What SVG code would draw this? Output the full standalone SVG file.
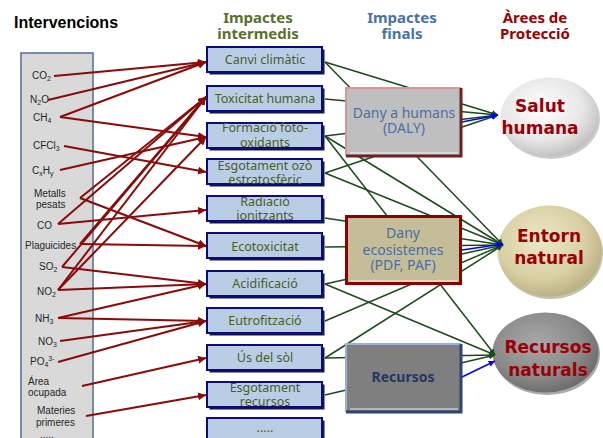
<svg xmlns="http://www.w3.org/2000/svg" width="603" height="438" viewBox="0 0 603 438">
<defs>
<style>
.hdr{font-family:"Noto Sans","DejaVu Sans",sans-serif;font-weight:bold;font-size:15px;text-anchor:middle}
.lbl{font-family:"Liberation Sans",Arial,sans-serif;font-size:10px;fill:#262626}
.sub{font-size:7px}
.mid rect.sh{fill:#15154f}
.mid rect.bx{fill:#b9cde5;stroke:#0c0c78;stroke-width:2}
.mid text{font-family:"Noto Sans","DejaVu Sans",sans-serif;font-size:12.5px;fill:#4a5e24;text-anchor:middle}
.end text{font-family:"Noto Sans","DejaVu Sans",sans-serif;font-size:14px;fill:#4a6fa5;text-anchor:middle}
.end text.rec{fill:#1f3864;font-weight:bold}
.ell text{font-family:"DejaVu Sans","Noto Sans",sans-serif;font-weight:bold;font-size:17px;fill:#9c0006;text-anchor:middle}
.red{stroke:#8b0a0a;stroke-width:2;fill:none;marker-end:url(#ar)}
.grn{stroke:#1b4a1b;stroke-width:1.5;fill:none;marker-end:url(#ag)}
.blu{stroke:#0000ff;stroke-width:1.6;fill:none;marker-end:url(#ab)}
</style>
<marker id="ar" viewBox="0 0 10 10" refX="10" refY="5" markerWidth="4" markerHeight="4" orient="auto"><path d="M0,0L10,5L0,10z" fill="#8b0a0a"/></marker>
<marker id="ag" viewBox="0 0 10 10" refX="10" refY="5" markerWidth="4" markerHeight="4" orient="auto"><path d="M0,0L10,5L0,10z" fill="#1b4a1b"/></marker>
<marker id="ab" viewBox="0 0 10 10" refX="10" refY="5" markerWidth="4" markerHeight="4" orient="auto"><path d="M0,0L10,5L0,10z" fill="#0000ff"/></marker>
<radialGradient id="gS" cx="0.42" cy="0.38" r="0.65"><stop offset="0" stop-color="#ffffff"/><stop offset="0.65" stop-color="#e6e6e6"/><stop offset="1" stop-color="#bdbdbd"/></radialGradient>
<radialGradient id="gE" cx="0.42" cy="0.38" r="0.65"><stop offset="0" stop-color="#eee8c8"/><stop offset="0.65" stop-color="#d8cfa3"/><stop offset="1" stop-color="#b8ae80"/></radialGradient>
<radialGradient id="gR" cx="0.42" cy="0.38" r="0.65"><stop offset="0" stop-color="#a8a8a8"/><stop offset="0.65" stop-color="#8a8a8a"/><stop offset="1" stop-color="#6a6a6a"/></radialGradient>
</defs>
<rect width="603" height="438" fill="#ffffff"/>

<g id="headers">
<text x="14" y="28" font-family="Liberation Sans,Arial,sans-serif" font-weight="bold" font-size="16" fill="#000">Intervencions</text>
<text class="hdr" fill="#5b7030"><tspan x="258" y="23">Impactes</tspan><tspan x="258" y="39">intermedis</tspan></text>
<text class="hdr" fill="#4a72a8"><tspan x="402" y="23">Impactes</tspan><tspan x="402" y="39">finals</tspan></text>
<text class="hdr" fill="#990000"><tspan x="535" y="23">Àrees de</tspan><tspan x="535" y="39">Protecció</tspan></text>
</g>

<g id="interventions">
<rect x="21" y="53" width="72" height="400" fill="#d9d9d9" stroke="#4f6d96" stroke-width="1.5"/>
<text class="lbl" x="32" y="79">CO<tspan class="sub" dy="2">2</tspan></text>
<text class="lbl" x="30" y="103">N<tspan class="sub" dy="2">2</tspan><tspan dy="-2">O</tspan></text>
<text class="lbl" x="33" y="121">CH<tspan class="sub" dy="2">4</tspan></text>
<text class="lbl" x="33" y="149">CFCl<tspan class="sub" dy="2">3</tspan></text>
<text class="lbl" x="32" y="174">C<tspan class="sub" dy="2">x</tspan><tspan dy="-2">H</tspan><tspan class="sub" dy="2">y</tspan></text>
<text class="lbl"><tspan x="34" y="197">Metalls</tspan><tspan x="36" y="208">pesats</tspan></text>
<text class="lbl" x="37" y="229">CO</text>
<text class="lbl" x="25" y="249">Plaguicides</text>
<text class="lbl" x="39" y="270">SO<tspan class="sub" dy="2">2</tspan></text>
<text class="lbl" x="37" y="295">NO<tspan class="sub" dy="2">2</tspan></text>
<text class="lbl" x="35" y="322">NH<tspan class="sub" dy="2">3</tspan></text>
<text class="lbl" x="38" y="345">NO<tspan class="sub" dy="2">3</tspan></text>
<text class="lbl" x="30" y="365">PO<tspan class="sub" dy="2">4</tspan><tspan class="sub" dy="-6">3-</tspan></text>
<text class="lbl"><tspan x="28" y="385">Área</tspan><tspan x="28" y="396">ocupada</tspan></text>
<text class="lbl"><tspan x="37" y="414">Materies</tspan><tspan x="36" y="426">primeres</tspan></text>
<text class="lbl" x="40" y="438">.....</text>
</g>

<g id="area-salut" class="ell">
<ellipse cx="551" cy="119" rx="49" ry="40" fill="#9a9a9a" opacity="0.5"/>
<ellipse cx="549.5" cy="117" rx="49" ry="39.5" fill="url(#gS)"/>
<text><tspan x="540" y="112">Salut</tspan><tspan x="540" y="134">humana</tspan></text>
</g>
<g id="area-entorn" class="ell">
<ellipse cx="551" cy="253" rx="52" ry="46" fill="#8a845f" opacity="0.5"/>
<ellipse cx="549.5" cy="251" rx="52" ry="45.5" fill="url(#gE)"/>
<text><tspan x="549" y="242">Entorn</tspan><tspan x="549" y="264">natural</tspan></text>
</g>
<g id="area-recursos" class="ell">
<ellipse cx="547" cy="354.5" rx="53" ry="40.5" fill="#555" opacity="0.5"/>
<ellipse cx="545.5" cy="352.5" rx="53" ry="40" fill="url(#gR)"/>
<text><tspan x="548" y="353">Recursos</tspan><tspan x="548" y="376">naturals</tspan></text>
</g>

<g id="connectors">
<path class="grn" d="M325,62L498,115"/>
<path class="grn" d="M325,62L503,245"/>
<path class="grn" d="M325,99L498,115"/>
<path class="grn" d="M325,136L498,115"/>
<path class="grn" d="M325,136L503,245"/>
<path class="grn" d="M325,136L495,355"/>
<path class="grn" d="M325,173L498,115"/>
<path class="grn" d="M325,173L503,245"/>
<path class="grn" d="M325,218L503,245"/>
<path class="grn" d="M325,247L503,245"/>
<path class="grn" d="M325,284L503,245"/>
<path class="grn" d="M325,284L495,355"/>
<path class="grn" d="M325,321L503,245"/>
<path class="grn" d="M325,358L503,245"/>
<path class="grn" d="M325,358L495,355"/>
<path class="grn" d="M325,395L495,355"/>

<path class="red" d="M54,76L206,62"/>
<path class="red" d="M48,100L206,62"/>
<path class="red" d="M60,117L206,62"/>
<path class="red" d="M60,117L206,137"/>
<path class="red" d="M64,146L206,172"/>
<path class="red" d="M60,170L206,137"/>
<path class="red" d="M80,198L206,97"/>
<path class="red" d="M80,198L206,246"/>
<path class="red" d="M58,224L206,97"/>
<path class="red" d="M58,224L206,210"/>
<path class="red" d="M80,244L206,97"/>
<path class="red" d="M80,244L206,246"/>
<path class="red" d="M62,267L206,97"/>
<path class="red" d="M62,267L206,284"/>
<path class="red" d="M58,290L206,97"/>
<path class="red" d="M58,290L206,137"/>
<path class="red" d="M58,290L206,284"/>
<path class="red" d="M58,318L206,284"/>
<path class="red" d="M58,318L206,321"/>
<path class="red" d="M60,341L206,321"/>
<path class="red" d="M58,362L206,321"/>
<path class="red" d="M82,386L206,358"/>
<path class="red" d="M86,416L206,395"/>

<path class="blu" d="M462,122L498,115"/>
<path class="blu" d="M462,250L503,244"/>
<path class="blu" d="M462,377L495,361"/>
</g>

<g id="endpoint-humans" class="end">
<rect x="346" y="88" width="115" height="68" fill="#bfbfbf"/>
<path d="M350,153H458" stroke="#e2e2e2" stroke-width="1.5"/>
<path d="M346,156V88H461" fill="none" stroke="#d99694" stroke-width="2"/>
<path d="M461,88V156H346" fill="none" stroke="#6b2424" stroke-width="3"/>
<text><tspan x="404" y="118">Dany a humans</tspan><tspan x="404" y="133">(DALY)</tspan></text>
</g>
<g id="endpoint-ecosistemes" class="end">
<rect x="346.5" y="216.5" width="114" height="67" fill="#c4bd97" stroke="#8b0000" stroke-width="3"/>
<path d="M350,281H457" stroke="#e8e4d0" stroke-width="1.5"/>
<text><tspan x="403" y="238">Dany</tspan><tspan x="403" y="255">ecosistemes</tspan><tspan x="403" y="270">(PDF, PAF)</tspan></text>
</g>
<g id="endpoint-recursos" class="end">
<rect x="346" y="344" width="115" height="68" fill="#7f7f7f"/>
<path d="M350,409H458" stroke="#c8c8c8" stroke-width="1.5"/>
<path d="M346,412V344H461" fill="none" stroke="#95b3d7" stroke-width="2"/>
<path d="M461,344V412H346" fill="none" stroke="#2c4770" stroke-width="3"/>
<text class="rec" x="403" y="382">Recursos</text>
</g>

<g id="mid-canvi" class="mid"><rect class="sh" x="209.5" y="49.5" width="115" height="25"/><rect class="bx" x="207" y="47" width="115" height="25"/><text x="265" y="64">Canvi climàtic</text></g>
<g id="mid-toxicitat" class="mid"><rect class="sh" x="209.5" y="88.5" width="115" height="25"/><rect class="bx" x="207" y="86" width="115" height="25"/><text x="265" y="102.5">Toxicitat humana</text></g>
<g id="mid-formacio" class="mid"><rect class="sh" x="209.5" y="125.5" width="115" height="25"/><rect class="bx" x="207" y="123" width="115" height="25"/><text><tspan x="265" y="132">Formació foto-</tspan><tspan x="265" y="147">oxidants</tspan></text></g>
<g id="mid-ozo" class="mid"><rect class="sh" x="209.5" y="161.5" width="115" height="25"/><rect class="bx" x="207" y="159" width="115" height="25"/><text><tspan x="265" y="169.5">Esgotament ozò</tspan><tspan x="265" y="184">estratosfèric</tspan></text></g>
<g id="mid-radiacio" class="mid"><rect class="sh" x="209.5" y="198.5" width="115" height="25"/><rect class="bx" x="207" y="196" width="115" height="25"/><text><tspan x="265" y="206">Radiació</tspan><tspan x="265" y="220">ionitzants</tspan></text></g>
<g id="mid-ecotox" class="mid"><rect class="sh" x="209.5" y="235.5" width="115" height="25"/><rect class="bx" x="207" y="233" width="115" height="25"/><text x="265" y="251">Ecotoxicitat</text></g>
<g id="mid-acid" class="mid"><rect class="sh" x="209.5" y="273.5" width="115" height="25"/><rect class="bx" x="207" y="271" width="115" height="25"/><text x="265" y="288">Acidificació</text></g>
<g id="mid-eutrof" class="mid"><rect class="sh" x="209.5" y="310.5" width="115" height="25"/><rect class="bx" x="207" y="308" width="115" height="25"/><text x="265" y="324.5">Eutrofització</text></g>
<g id="mid-us" class="mid"><rect class="sh" x="209.5" y="347.5" width="115" height="25"/><rect class="bx" x="207" y="345" width="115" height="25"/><text x="265" y="361.5">Ús del sòl</text></g>
<g id="mid-recursos" class="mid"><rect class="sh" x="209.5" y="384.5" width="115" height="25"/><rect class="bx" x="207" y="382" width="115" height="25"/><text><tspan x="265" y="392">Esgotament</tspan><tspan x="265" y="406">recursos</tspan></text></g>
<g id="mid-more" class="mid"><rect class="sh" x="209.5" y="420.5" width="115" height="30"/><rect class="bx" x="207" y="418" width="115" height="30"/><text x="265" y="432">.....</text></g>
</svg>
